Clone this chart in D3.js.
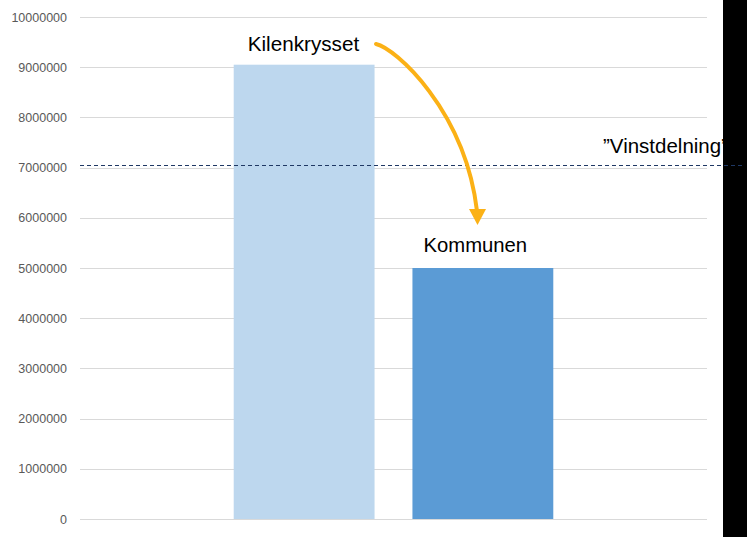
<!DOCTYPE html>
<html>
<head>
<meta charset="utf-8">
<script src="https://cdn.jsdelivr.net/npm/d3@7"></script>
<style>
  body { margin: 0; background: #fff; }
  svg { display: block; }
</style>
</head>
<body>
<div id="chart"></div>
<script>
// data
const categories = ['Kilenkrysset', 'Kommunen']
const values = [9050000, 5000000]
const barColors = ['#BDD7EE', '#5B9BD5']
const yTicks = [0, 1000000, 2000000, 3000000, 4000000, 5000000, 6000000, 7000000, 8000000, 9000000, 10000000]
const vinstdelning = 7050000
const refLabel = '\u201DVinstdelning\u201D'

const width = 747
const height = 537
const plot = { left: 80, right: 707, top: 17, bottom: 519 }

const svg = d3.select('#chart')
  .append('svg')
  .attr('width', width)
  .attr('height', height)

const x = d3.scaleBand()
  .domain(categories)
  .range([plot.left, plot.right])
  .paddingInner(0.212)
  .paddingOuter(0.86)

const y = d3.scaleLinear()
  .domain([0, 10000000])
  .range([plot.bottom, plot.top])

// gridlines
svg.append('g')
  .selectAll('line')
  .data(yTicks)
  .enter()
  .append('line')
  .attr('x1', plot.left)
  .attr('x2', plot.right)
  .attr('y1', d => Math.round(y(d)) + 0.5)
  .attr('y2', d => Math.round(y(d)) + 0.5)
  .attr('stroke', '#D9D9D9')
  .attr('stroke-width', 1)

// y axis labels
const yAxis = svg.append('g')
  .attr('transform', `translate(${plot.left - 13}, 0)`)
  .call(d3.axisLeft(y).tickValues(yTicks).tickSize(0).tickPadding(0).tickFormat(d3.format('d')))
yAxis.select('.domain').remove()
yAxis.selectAll('text')
  .attr('fill', '#595959')
  .style('font-family', '"Liberation Sans", Arial, sans-serif')
  .style('font-size', '12.5px')

// bars
svg.append('g')
  .selectAll('rect')
  .data(values)
  .enter()
  .append('rect')
  .attr('x', (d, i) => x(categories[i]))
  .attr('width', x.bandwidth())
  .attr('y', d => y(d))
  .attr('height', d => y(0) - y(d))
  .attr('fill', (d, i) => barColors[i])

const labelFont = '"Liberation Sans", Arial, sans-serif'

svg.append('text')
  .attr('x', 603)
  .attr('y', y(vinstdelning) - 12)
  .attr('font-family', labelFont)
  .attr('font-size', 20.5)
  .attr('fill', '#000')
  .text(refLabel)

// black strip on the right edge, covers the end of the label
svg.append('rect')
  .attr('x', 723)
  .attr('y', 0)
  .attr('width', width - 723)
  .attr('height', height)
  .attr('fill', '#000')

// dashed reference line
svg.append('line')
  .attr('x1', plot.left)
  .attr('x2', 742)
  .attr('y1', Math.round(y(vinstdelning)) + 0.5)
  .attr('y2', Math.round(y(vinstdelning)) + 0.5)
  .attr('stroke', '#1F3864')
  .attr('stroke-width', 1)
  .attr('stroke-dasharray', '4,3')

// bar labels
svg.append('text')
  .attr('x', x(categories[0]) + 14)
  .attr('y', 51)
  .attr('font-family', labelFont)
  .attr('font-size', 20.7)
  .attr('fill', '#000')
  .text(categories[0])

svg.append('text')
  .attr('x', x(categories[1]) + 11)
  .attr('y', 252)
  .attr('font-family', labelFont)
  .attr('font-size', 20.3)
  .attr('fill', '#000')
  .text(categories[1])

// curved arrow from one label to the other
const arrowColor = '#FBB116'
svg.append('path')
  .attr('d', 'M376,44 C395,48 465,110 477,211')
  .attr('fill', 'none')
  .attr('stroke', arrowColor)
  .attr('stroke-width', 4)
  .attr('stroke-linecap', 'round')

svg.append('path')
  .attr('d', 'M469,209 L486,209 L477.5,225 Z')
  .attr('fill', arrowColor)
</script>
</body>
</html>
